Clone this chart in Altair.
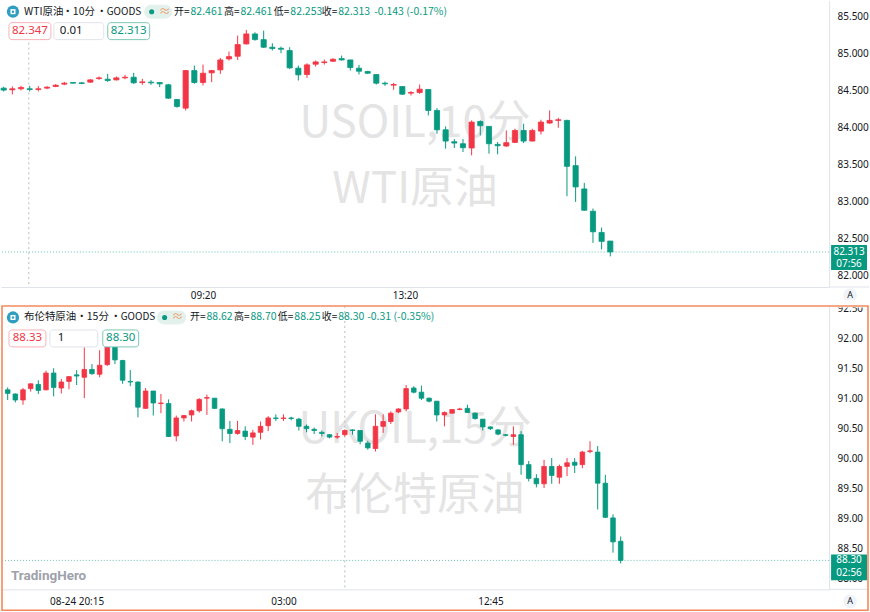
import altair as alt
import pandas as pd

# ---------------- WTI crude oil, 10-minute bars ----------------
wti_open = [84.532, 84.509, 84.523, 84.523, 84.514, 84.532, 84.554, 84.586, 84.608, 84.604,
            84.613, 84.662, 84.653, 84.644, 84.671, 84.680, 84.608, 84.613, 84.608, 84.577,
            84.378, 84.261, 84.770, 84.608, 84.739, 84.779, 84.928, 84.964, 85.131, 85.266,
            85.189, 85.086, 85.072, 85.041, 84.802, 84.716, 84.856, 84.878, 84.896, 84.932,
            84.914, 84.802, 84.757, 84.716, 84.599, 84.572, 84.554, 84.464, 84.473, 84.514,
            84.230, 83.968, 83.806, 83.779, 83.721, 84.081, 84.014, 83.770, 83.748, 83.797,
            83.959, 83.815, 83.950, 84.059, 84.095, 84.095, 83.482, 83.167, 82.865, 82.577,
            82.461]
wti_high = [84.550, 84.554, 84.563, 84.563, 84.559, 84.559, 84.586, 84.617, 84.613, 84.613,
            84.653, 84.689, 84.725, 84.689, 84.712, 84.739, 84.658, 84.640, 84.608, 84.590,
            84.387, 84.779, 84.838, 84.851, 84.779, 84.941, 85.027, 85.243, 85.320, 85.288,
            85.311, 85.140, 85.095, 85.086, 84.838, 84.869, 84.905, 84.919, 84.937, 84.973,
            84.914, 84.847, 84.766, 84.716, 84.622, 84.604, 84.554, 84.491, 84.581, 84.514,
            84.261, 84.014, 83.842, 83.842, 84.095, 84.095, 84.014, 83.802, 83.959, 83.982,
            84.050, 83.982, 84.104, 84.230, 84.131, 84.104, 83.608, 83.248, 82.901, 82.644,
            82.461]
wti_low = [84.487, 84.446, 84.500, 84.487, 84.487, 84.518, 84.545, 84.572, 84.595, 84.586,
           84.604, 84.644, 84.617, 84.635, 84.653, 84.590, 84.577, 84.577, 84.545, 84.387,
           84.266, 84.230, 84.590, 84.568, 84.613, 84.725, 84.905, 84.914, 85.122, 85.176,
           85.077, 85.041, 85.005, 84.793, 84.635, 84.671, 84.824, 84.851, 84.887, 84.905,
           84.770, 84.716, 84.725, 84.581, 84.563, 84.509, 84.441, 84.432, 84.455, 84.162,
           83.914, 83.712, 83.721, 83.667, 83.622, 83.892, 83.644, 83.635, 83.734, 83.788,
           83.788, 83.811, 83.905, 84.050, 83.995, 83.068, 82.991, 82.869, 82.437, 82.347,
           82.253]
wti_close = [84.505, 84.523, 84.541, 84.514, 84.523, 84.545, 84.572, 84.599, 84.599, 84.595,
             84.644, 84.671, 84.635, 84.671, 84.680, 84.604, 84.617, 84.604, 84.590, 84.396,
             84.284, 84.770, 84.608, 84.734, 84.770, 84.914, 84.959, 85.122, 85.266, 85.189,
             85.086, 85.068, 85.059, 84.806, 84.712, 84.847, 84.887, 84.887, 84.923, 84.914,
             84.811, 84.761, 84.734, 84.599, 84.590, 84.581, 84.450, 84.473, 84.518, 84.230,
             83.968, 83.815, 83.788, 83.725, 84.072, 84.023, 83.779, 83.752, 83.793, 83.959,
             83.815, 83.959, 84.072, 84.095, 84.104, 83.473, 83.194, 82.878, 82.586, 82.456,
             82.313]
wti_title = ["WTI原油", "•", "10分", "•", "GOODS"]
wti_time_labels = ["09:20", "13:20"]
wti_time_bars = [23, 46.3]
wti_price_ticks = [82.0, 82.5, 83.0, 83.5, 84.0, 84.5, 85.0, 85.5]
wti_quotes = ["82.347", "0.01", "82.313"]
wti_timer = "07:56"
wti_marker_bar = 2.9

# ---------------- Brent crude oil, 15-minute bars ----------------
brent_open = [91.15, 91.08, 90.98, 91.17, 91.24, 91.15, 91.43, 91.18, 91.29, 91.40,
              91.36, 91.49, 91.41, 91.57, 91.87, 91.64, 91.29, 91.28, 90.84, 91.13,
              90.92, 90.92, 90.38, 90.68, 90.73, 90.80, 91.01, 91.01, 90.83, 90.49,
              90.42, 90.46, 90.36, 90.44, 90.55, 90.68, 90.67, 90.68, 90.66, 90.54,
              90.49, 90.44, 90.40, 90.36, 90.40, 90.48, 90.47, 90.26, 90.17, 90.54,
              90.62, 90.78, 90.83, 91.18, 91.11, 91.01, 90.96, 90.73, 90.76, 90.82,
              90.84, 90.76, 90.66, 90.53, 90.48, 90.40, 90.37, 90.40, 89.90, 89.67,
              89.58, 89.87, 89.69, 89.87, 89.94, 89.90, 90.12, 90.11, 89.59, 89.01,
              88.62]
brent_high = [91.19, 91.09, 91.18, 91.26, 91.31, 91.47, 91.51, 91.33, 91.38, 91.48,
              91.86, 91.58, 91.81, 91.96, 91.88, 91.65, 91.48, 91.29, 91.18, 91.13,
              91.08, 90.99, 90.72, 90.73, 90.82, 91.01, 91.07, 91.01, 90.84, 90.63,
              90.63, 90.54, 90.48, 90.62, 90.71, 90.74, 90.74, 90.70, 90.68, 90.57,
              90.52, 90.47, 90.41, 90.43, 90.49, 90.49, 90.47, 90.30, 90.74, 90.74,
              90.79, 90.84, 91.23, 91.21, 91.22, 91.02, 90.96, 90.79, 90.83, 90.85,
              90.90, 90.77, 90.66, 90.54, 90.49, 90.41, 90.54, 90.46, 89.96, 89.74,
              89.98, 90.01, 89.90, 90.01, 90.01, 90.13, 90.29, 90.21, 89.73, 89.07,
              88.70]
brent_low = [90.98, 90.94, 90.90, 91.12, 91.08, 91.14, 91.04, 91.09, 91.16, 91.23,
             91.01, 91.40, 91.36, 91.55, 91.58, 91.25, 91.21, 90.69, 90.83, 90.72,
             90.76, 90.36, 90.29, 90.62, 90.62, 90.77, 90.73, 90.83, 90.29, 90.26,
             90.40, 90.31, 90.23, 90.32, 90.46, 90.63, 90.63, 90.64, 90.47, 90.44,
             90.41, 90.37, 90.34, 90.33, 90.37, 90.40, 90.24, 90.15, 90.12, 90.43,
             90.58, 90.76, 90.79, 91.09, 90.98, 90.94, 90.62, 90.54, 90.75, 90.81,
             90.77, 90.65, 90.47, 90.48, 90.39, 90.37, 90.23, 89.73, 89.62, 89.52,
             89.51, 89.58, 89.58, 89.71, 89.76, 89.84, 90.09, 89.15, 89.01, 88.43,
             88.25]
brent_close = [91.09, 90.98, 91.15, 91.25, 91.14, 91.43, 91.19, 91.28, 91.37, 91.38,
               91.49, 91.42, 91.56, 91.87, 91.65, 91.31, 91.28, 90.86, 91.13, 90.93,
               90.93, 90.37, 90.68, 90.72, 90.80, 90.99, 91.02, 90.84, 90.50, 90.42,
               90.47, 90.37, 90.43, 90.54, 90.68, 90.67, 90.68, 90.67, 90.54, 90.50,
               90.47, 90.42, 90.36, 90.37, 90.47, 90.47, 90.29, 90.18, 90.54, 90.62,
               90.76, 90.83, 91.17, 91.11, 91.01, 90.96, 90.73, 90.77, 90.82, 90.83,
               90.77, 90.67, 90.53, 90.50, 90.41, 90.39, 90.40, 89.90, 89.67, 89.58,
               89.87, 89.72, 89.87, 89.93, 89.89, 90.11, 90.13, 89.59, 89.02, 88.61,
               88.30]
brent_title = ["布伦特原油", "•", "15分", "•", "GOODS"]
brent_time_labels = ["08-24 20:15", "03:00", "12:45"]
brent_time_bars = [9, 36, 63]
brent_price_ticks = [88.0, 88.5, 89.0, 89.5, 90.0, 90.5, 91.0, 91.5, 92.0, 92.5]
brent_quotes = ["88.33", "1", "88.30"]
brent_timer = "02:56"
brent_marker_bar = 44

# ---------------- styling ----------------
UP = "#f23645"
DOWN = "#089981"
INK = "#131722"
RULE = "#e0e3eb"
WATERMARK = "#e4e4e4"
FRAME = "#f48a5c"
CJK = "Noto Sans CJK SC"
SANS = "Noto Sans"
PLOT_W = 830

one = pd.DataFrame({"k": [0]})


def bars(o, h, l, c):
    df = pd.DataFrame({"bar": list(range(len(o))), "open": o, "high": h, "low": l, "close": c})
    df["dir"] = ["up" if cl >= op else "down" for op, cl in zip(o, c)]
    return df


def tick_expr(values, labels):
    expr = "''"
    for v, t in reversed(list(zip(values, labels))):
        expr = f"abs(datum.value - {v}) < 0.01 ? '{t}' : {expr}"
    return expr


def text(s, x, y, size=11, color=INK, align="left", font=CJK, weight="normal"):
    return alt.Chart(one).mark_text(
        text=s, align=align, baseline="middle", fontSize=size, color=color,
        font=font, fontWeight=weight,
    ).encode(x=alt.value(x), y=alt.value(y))


def box(x0, y0, x1, y1, stroke, fill="#ffffff", radius=3, width=1.0, fill_opacity=1.0):
    return alt.Chart(one).mark_rect(
        stroke=stroke, strokeWidth=width, fill=fill, fillOpacity=fill_opacity, cornerRadius=radius,
    ).encode(x=alt.value(x0), x2=alt.value(x1), y=alt.value(y0), y2=alt.value(y1))


def dot(x, y, size, color):
    return alt.Chart(one).mark_circle(size=size, color=color, opacity=1).encode(
        x=alt.value(x), y=alt.value(y))


def legend(y, title, title_x, o, h, l, c, prev, fmt, pill_x, val_x, chg_x, qy, qboxes, qtext):
    chg = c - prev
    pct = chg / prev * 100
    layers = [
        dot(12, y, 150, "#2f9ec0"),
        alt.Chart(one).mark_square(size=26, color="#ffffff", opacity=1).encode(
            x=alt.value(12), y=alt.value(y)),
        dot(12, y, 6, "#2f9ec0"),
    ]
    for part, px in zip(title, title_x):
        if part == "•":
            layers.append(text(part, px, y, size=10.5, align="center"))
        elif part.isascii():
            layers.append(text(part, px, y, size=10))
        else:
            layers.append(text(part, px, y, size=10.5))
    layers += [
        box(pill_x[0], y - 6.5, pill_x[1], y + 6.5, stroke="#e3f1ec", fill="#e3f1ec", radius=6),
        dot(pill_x[0] + 7, y, 26, DOWN),
        text("≈", pill_x[0] + 20, y, size=12, color="#f0a070", align="center"),
    ]
    for lab, v, vx in zip(["开=", "高=", "低=", "收="], [o, h, l, c], val_x):
        layers.append(text(lab, vx - 1, y, size=10, align="right"))
        layers.append(text(format(v, fmt), vx, y, size=10.5, color=DOWN))
    dec = fmt.replace("f", "").replace(".", "")
    layers.append(text(f"{chg:+.{dec}f} ({pct:+.2f}%)", chg_x, y, size=10.5, color=DOWN))
    colors = [("#f6b3ba", UP), (RULE, INK), ("#7cc7b6", DOWN)]
    for (x0, x1), (stroke, col), q, (tx, al) in zip(qboxes, colors, qtext[0], qtext[1]):
        layers.append(box(x0, qy - 8.5, x1, qy + 8.5, stroke=stroke))
        layers.append(text(q, tx, qy, size=11.5, color=col, align=al, font=SANS))
    return layers


def pane(df, height, x_domain, y_domain, body_width, time_bars, time_labels, time_pad,
         price_ticks, price_fmt, marker_bar, marker_top, watermark, wm_y, tag_span, timer, extras):
    x_scale = alt.Scale(domain=x_domain, nice=False, zero=False, padding=0)
    y_scale = alt.Scale(domain=y_domain, nice=False, zero=False, padding=0)
    x_axis = alt.Axis(values=time_bars, labelExpr=tick_expr(time_bars, time_labels), title=None,
                      grid=False, ticks=False, domainColor=RULE, labelColor=INK, labelFont=SANS,
                      labelFontSize=10, labelPadding=time_pad, labelFlush=False, labelOverlap=False)
    y_axis = alt.Axis(orient="right", values=price_ticks, format=price_fmt, title=None, grid=False,
                      ticks=False, domainColor=RULE, labelColor=INK, labelFont=SANS,
                      labelFontSize=10, labelPadding=8, labelFlush=False, labelOverlap=False)

    def X(f):
        return alt.X(f, type="quantitative", scale=x_scale, axis=x_axis)

    def Y(f):
        return alt.Y(f, type="quantitative", scale=y_scale, axis=y_axis)

    color = alt.Color("dir:N", scale=alt.Scale(domain=["up", "down"], range=[UP, DOWN]), legend=None)
    base = alt.Chart(df)
    last = alt.Chart(df.tail(1))
    marker = alt.Chart(pd.DataFrame({"bar": [marker_bar]}))

    layers = [
        text(watermark[0], PLOT_W / 2, wm_y[0], size=44, color=WATERMARK, align="center"),
        text(watermark[1], PLOT_W / 2, wm_y[1], size=44, color=WATERMARK, align="center"),
        marker.mark_rule(color="#b8bcc6", strokeDash=[2, 3], strokeWidth=1).encode(
            x=X("bar"), y=alt.value(marker_top), y2=alt.value(height)),
        last.mark_rule(color=DOWN, strokeDash=[1, 2], strokeWidth=1, opacity=0.6).encode(y=Y("close")),
        base.mark_rule(strokeWidth=1).encode(x=X("bar"), y=Y("low"), y2="high:Q", color=color),
        base.mark_bar(width=body_width, strokeWidth=0.8).encode(
            x=X("bar"), y=Y("open"), y2="close:Q", color=color, stroke=color),
        last.mark_rect(yOffset=tag_span[0], y2Offset=tag_span[1]).encode(
            x=alt.value(PLOT_W + 2), x2=alt.value(PLOT_W + 38), y=Y("close"), y2="close:Q", color=color),
        last.mark_text(color="#ffffff", font=SANS, fontSize=10, align="center", baseline="middle").encode(
            x=alt.value(PLOT_W + 20), y=Y("close"), text=alt.Text("close:Q", format=price_fmt)),
        last.mark_text(color="#ffffff", font=SANS, fontSize=10, align="center", baseline="middle",
                       dy=12.5, text=timer).encode(x=alt.value(PLOT_W + 20), y=Y("close")),
    ]
    return alt.layer(*layers, *extras).properties(width=PLOT_W, height=height)


def corner_button(y):
    return [dot(851, y, 190, "#f0f3fa"), text("A", 851, y, size=9, align="center", font=SANS)]


wti = bars(wti_open, wti_high, wti_low, wti_close)
brent = bars(brent_open, brent_high, brent_low, brent_close)

TOP_H = 287
BOT_H = 284

top_extras = legend(
    11, wti_title, [23, 67, 72, 101, 106],
    wti_open[-1], wti_high[-1], wti_low[-1], wti_close[-1], wti_close[-2], ".3f",
    (144, 171), [190, 240, 290, 338], 374,
    30.5, [(8, 50), (53, 103), (107, 149)],
    (wti_quotes, [(29, "center"), (59, "left"), (128, "center")]),
) + corner_button(295) + [
    alt.Chart(one).mark_rule(color=RULE).encode(
        x=alt.value(PLOT_W), x2=alt.value(870), y=alt.value(TOP_H)),
]

bottom_extras = legend(
    11.5, brent_title, [23, 81, 86, 115, 120],
    brent_open[-1], brent_high[-1], brent_low[-1], brent_close[-1], brent_close[-2], ".2f",
    (157, 185), [206, 250, 294, 338], 367,
    32.5, [(8, 45), (49, 97), (102, 138)],
    (brent_quotes, [(26.5, "center"), (57, "left"), (120, "center")]),
) + corner_button(296) + [
    alt.Chart(one).mark_rule(color=RULE).encode(
        x=alt.value(PLOT_W), x2=alt.value(869), y=alt.value(BOT_H)),
    text("TradingHero", 10, 271, size=13.5, color="#9ea1aa", font="Roboto", weight="bold"),
    box(PLOT_W + 1, -6, 868, 1.5, stroke="#ffffff", fill="#ffffff", radius=0, width=0),
    box(1, 0, 869, 305, stroke=FRAME, fill="#ffffff", fill_opacity=0, radius=0, width=1.6),
]

top = pane(wti, TOP_H, [-0.311, 95.25], [81.8378, 85.7162], 5.2,
           wti_time_bars, wti_time_labels, 3, wti_price_ticks, ".3f",
           wti_marker_bar, 42, ["USOIL,10分", "WTI原油"], [124, 190], (-7, 18), wti_timer, top_extras)

bottom = pane(brent, BOT_H, [-0.872, 107.2], [87.8167, 92.55], 4.6,
              brent_time_bars, brent_time_labels, 7, brent_price_ticks, ".2f",
              brent_marker_bar, 0, ["UKOIL,15分", "布伦特原油"], [124, 191], (-6, 20), brent_timer,
              bottom_extras)

chart = alt.vconcat(top, bottom, spacing=19, bounds="flush").properties(
    padding=0, background="#ffffff"
).configure_view(strokeWidth=0)

chart.save("out.html", embed_options={"renderer": "svg", "actions": False})
